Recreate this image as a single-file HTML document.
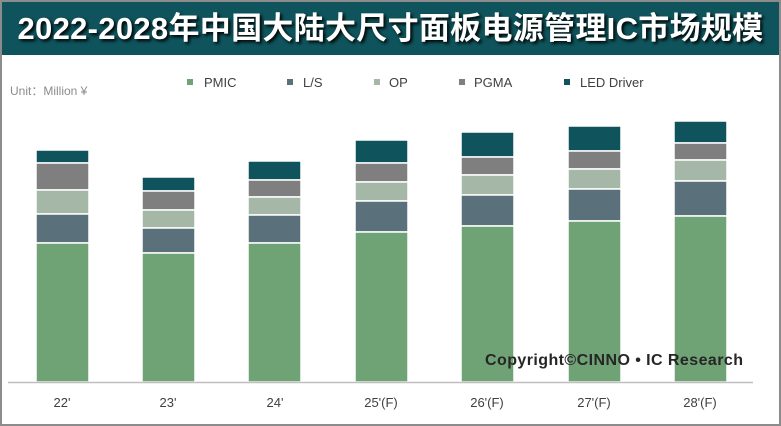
<!DOCTYPE html>
<html><head><meta charset="utf-8"><style>
body{margin:0;width:781px;height:426px;overflow:hidden;background:#fff;font-family:"Liberation Sans","Noto Sans CJK SC",sans-serif;}
.frame{position:absolute;left:0;top:0;width:777px;height:422px;border:2px solid #8c8c8c;}
.title{position:absolute;left:2px;top:2px;width:777px;height:53px;background:#0f545c;color:#fff;font-weight:bold;font-size:31px;line-height:53px;text-align:center;text-shadow:2px 2px 3px #000;letter-spacing:0.3px}
.t{position:absolute;font-size:12px;color:#404040}
</style></head><body>
<div class="frame"></div>
<div class="title">2022-2028年中国大陆大尺寸面板电源管理IC市场规模</div>
<div class="t" style="left:10px;top:82px;color:#8c8c8c">Unit：Million ¥</div>
<svg width="781" height="426" style="position:absolute;left:0;top:0">
<g font-family="Liberation Sans, sans-serif" font-size="13" fill="#404040">
<rect x="187" y="79" width="6" height="6" fill="#6fa275"/><text x="204" y="87">PMIC</text>
<rect x="287" y="79" width="6" height="6" fill="#5a707a"/><text x="303" y="87">L/S</text>
<rect x="374" y="79" width="6" height="6" fill="#a5b8a8"/><text x="389" y="87">OP</text>
<rect x="459" y="79" width="6" height="6" fill="#7f7f7f"/><text x="474" y="87">PGMA</text>
<rect x="564" y="79" width="6" height="6" fill="#0f535c"/><text x="580" y="87">LED Driver</text>
</g>
<g stroke="#fff" stroke-width="1.5">
<rect x="36" y="150" width="53" height="13" fill="#0f535c"/><rect x="36" y="163" width="53" height="27" fill="#7f7f7f"/><rect x="36" y="190" width="53" height="24" fill="#a5b8a8"/><rect x="36" y="214" width="53" height="29" fill="#5a707a"/><rect x="36" y="243" width="53" height="139" fill="#6fa275"/>
<rect x="142" y="177" width="53" height="14" fill="#0f535c"/><rect x="142" y="191" width="53" height="19" fill="#7f7f7f"/><rect x="142" y="210" width="53" height="18" fill="#a5b8a8"/><rect x="142" y="228" width="53" height="25" fill="#5a707a"/><rect x="142" y="253" width="53" height="129" fill="#6fa275"/>
<rect x="248" y="161" width="53" height="19" fill="#0f535c"/><rect x="248" y="180" width="53" height="17" fill="#7f7f7f"/><rect x="248" y="197" width="53" height="18" fill="#a5b8a8"/><rect x="248" y="215" width="53" height="28" fill="#5a707a"/><rect x="248" y="243" width="53" height="139" fill="#6fa275"/>
<rect x="355" y="140" width="53" height="23" fill="#0f535c"/><rect x="355" y="163" width="53" height="19" fill="#7f7f7f"/><rect x="355" y="182" width="53" height="19" fill="#a5b8a8"/><rect x="355" y="201" width="53" height="31" fill="#5a707a"/><rect x="355" y="232" width="53" height="150" fill="#6fa275"/>
<rect x="461" y="132" width="53" height="25" fill="#0f535c"/><rect x="461" y="157" width="53" height="18" fill="#7f7f7f"/><rect x="461" y="175" width="53" height="20" fill="#a5b8a8"/><rect x="461" y="195" width="53" height="31" fill="#5a707a"/><rect x="461" y="226" width="53" height="156" fill="#6fa275"/>
<rect x="568" y="126" width="53" height="25" fill="#0f535c"/><rect x="568" y="151" width="53" height="18" fill="#7f7f7f"/><rect x="568" y="169" width="53" height="20" fill="#a5b8a8"/><rect x="568" y="189" width="53" height="32" fill="#5a707a"/><rect x="568" y="221" width="53" height="161" fill="#6fa275"/>
<rect x="674" y="121" width="53" height="22" fill="#0f535c"/><rect x="674" y="143" width="53" height="17" fill="#7f7f7f"/><rect x="674" y="160" width="53" height="21" fill="#a5b8a8"/><rect x="674" y="181" width="53" height="35" fill="#5a707a"/><rect x="674" y="216" width="53" height="166" fill="#6fa275"/>
</g>
<line x1="8" y1="382.5" x2="753" y2="382.5" stroke="#bfbfbf" stroke-width="1.5"/>
<g font-family="Liberation Sans, sans-serif" font-size="13" fill="#404040" text-anchor="middle">
<text x="62" y="407">22'</text><text x="168" y="407">23'</text><text x="275" y="407">24'</text><text x="381" y="407">25'(F)</text><text x="487" y="407">26'(F)</text><text x="594" y="407">27'(F)</text><text x="700" y="407">28'(F)</text>
</g>
<text x="485" y="365" font-family="Liberation Sans, sans-serif" font-size="16" font-weight="bold" fill="#262626" textLength="258">Copyright©CINNO • IC Research</text>
</svg>
</body></html>
